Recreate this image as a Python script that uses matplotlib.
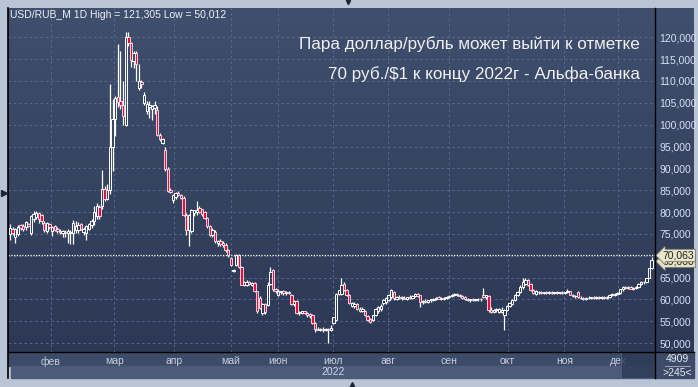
import numpy as np
import matplotlib.pyplot as plt
import matplotlib.transforms as mtransforms
from matplotlib.colors import LinearSegmentedColormap
from matplotlib.patches import Rectangle

plt.rcParams['font.family'] = ['Liberation Sans', 'DejaVu Sans']

# daily candles USD/RUB_M, 2022
opens = [
    74.9, 76.2, 74.2, 75.0, 77.0, 76.8, 76.6, 77.2, 75.2, 78.4,
    78.9, 79.8, 79.4, 77.6, 75.6, 77.3, 75.6, 76.7, 76.2, 75.7,
    75.1, 75.5, 75.1, 75.1, 75.1, 76.0, 76.0, 77.2, 75.4, 75.3,
    76.1, 77.0, 77.9, 79.0, 81.2, 81.3, 85.2, 83.0, 85.0, 94.8,
    101.3, 106.3, 105.4, 104.5, 100.0, 120.0, 118.6, 114.5, 116.3, 108.3,
    109.8, 104.9, 103.2, 104.0, 103.5, 103.8, 103.4, 97.7, 95.8, 94.3,
    89.9, 85.0, 82.8, 83.5, 84.3, 83.9, 83.3, 79.4, 76.0, 75.6,
    79.8, 79.9, 80.9, 80.6, 80.0, 78.6, 76.7, 74.8, 75.4, 72.9,
    73.3, 72.9, 72.5, 71.4, 69.5, 66.6, 67.9, 70.2, 67.4, 63.4,
    63.4, 64.1, 63.4, 63.8, 61.9, 60.4, 57.0, 58.9, 58.7, 63.5,
    66.7, 62.3, 61.0, 61.6, 62.0, 61.4, 61.8, 61.0, 58.9, 59.6,
    56.9, 56.9, 57.3, 57.0, 56.7, 56.4, 54.5, 53.3, 53.1, 53.2,
    53.0, 53.2, 53.1, 54.5, 55.2, 61.3, 61.3, 63.6, 62.1, 61.0,
    58.5, 58.4, 58.9, 57.9, 57.4, 57.4, 56.2, 55.6, 55.2, 56.4,
    57.4, 57.9, 59.1, 59.4, 59.8, 60.6, 61.8, 60.2, 60.5, 60.3,
    60.4, 60.2, 60.5, 60.4, 60.8, 61.2, 60.9, 59.4, 59.6, 59.4,
    59.8, 59.9, 60.1, 60.5, 60.2, 60.2, 60.4, 60.6, 60.8, 61.0,
    61.3, 61.0, 60.8, 60.5, 60.1, 59.8, 60.0, 59.9, 60.1, 60.0,
    61.0, 60.5, 60.8, 57.5, 57.2, 57.5, 57.1, 57.1, 56.4, 57.6,
    58.5, 59.0, 59.9, 61.0, 61.7, 62.9, 63.6, 64.4, 63.5, 62.1,
    61.3, 61.7, 61.8, 61.4, 61.6, 61.5, 61.8, 61.5, 61.6, 61.5,
    61.8, 61.5, 61.6, 61.9, 61.1, 60.7, 61.7, 60.4, 60.3, 60.2,
    60.4, 60.3, 60.5, 60.4, 60.5, 60.4, 60.5, 60.4, 60.6, 61.0,
    61.0, 61.3, 61.5, 62.3, 62.8, 62.7, 62.9, 62.5, 62.7, 62.9,
    63.6, 64.0, 64.0, 65.0, 67.1,
]
highs = [
    77.2, 76.6, 76.4, 77.0, 77.3, 77.2, 77.9, 77.6, 79.4, 80.3,
    80.2, 80.0, 79.6, 78.0, 77.8, 77.5, 76.8, 77.0, 76.5, 76.1,
    76.0, 75.8, 76.1, 76.0, 78.2, 77.9, 77.8, 77.5, 76.5, 77.0,
    77.6, 78.5, 81.3, 82.1, 81.5, 89.7, 86.0, 86.5, 109.3, 105.9,
    106.5, 118.5, 116.8, 110.0, 121.1, 121.3, 119.0, 116.8, 116.8, 113.8,
    110.2, 107.5, 105.3, 105.5, 104.5, 105.3, 104.3, 98.2, 97.0, 95.0,
    90.3, 85.4, 84.1, 84.5, 84.9, 84.2, 83.6, 79.8, 79.6, 80.7,
    80.5, 82.6, 81.4, 80.8, 80.3, 78.8, 77.0, 76.3, 75.8, 73.6,
    73.8, 73.3, 72.9, 71.6, 69.8, 67.0, 70.3, 70.5, 67.6, 64.2,
    64.5, 64.3, 64.0, 64.0, 62.0, 60.8, 59.2, 59.2, 64.0, 67.4,
    67.0, 62.6, 62.3, 62.0, 62.2, 62.0, 62.0, 61.2, 59.8, 59.8,
    57.3, 57.4, 57.4, 57.2, 56.9, 56.6, 54.8, 53.8, 53.5, 53.6,
    53.4, 53.5, 54.1, 56.0, 61.4, 62.2, 65.0, 64.0, 62.3, 61.2,
    59.3, 59.3, 59.2, 58.2, 58.2, 57.6, 56.4, 55.8, 56.5, 58.1,
    58.5, 59.0, 60.0, 60.6, 61.2, 62.5, 62.0, 60.8, 60.9, 60.7,
    60.8, 60.6, 60.9, 61.0, 61.4, 61.5, 61.1, 59.8, 60.0, 59.9,
    60.2, 60.3, 60.5, 60.8, 60.5, 60.6, 60.8, 61.0, 61.3, 61.4,
    61.5, 61.3, 61.0, 60.7, 60.3, 60.2, 60.3, 60.2, 60.3, 60.4,
    62.7, 61.0, 61.0, 58.2, 57.8, 58.0, 58.1, 58.2, 57.9, 58.8,
    59.4, 60.1, 61.2, 61.9, 63.2, 64.8, 64.8, 64.6, 63.7, 62.4,
    62.1, 62.0, 62.0, 61.8, 61.9, 61.9, 62.0, 61.8, 61.9, 61.8,
    62.0, 61.8, 62.3, 62.0, 61.3, 61.0, 62.0, 60.7, 60.6, 60.5,
    60.7, 60.6, 60.8, 60.7, 60.8, 60.7, 60.8, 60.8, 61.2, 61.5,
    61.5, 61.6, 62.5, 63.0, 63.1, 63.0, 63.1, 62.9, 63.0, 63.8,
    64.2, 64.3, 65.0, 67.3, 69.6,
]
lows = [
    73.6, 74.8, 73.0, 74.5, 76.0, 75.7, 76.0, 76.5, 74.8, 77.8,
    78.5, 77.6, 77.2, 75.5, 75.2, 76.2, 74.6, 75.7, 75.3, 75.0,
    74.4, 74.3, 72.9, 72.7, 72.8, 75.2, 75.3, 75.8, 74.8, 73.5,
    75.9, 76.3, 77.0, 78.3, 78.5, 80.8, 82.5, 82.8, 84.2, 89.3,
    97.4, 104.0, 103.5, 100.0, 99.6, 118.0, 113.3, 113.0, 110.0, 108.0,
    108.5, 104.5, 102.5, 101.5, 101.0, 102.5, 97.5, 96.2, 95.5, 89.5,
    84.6, 84.4, 82.0, 83.0, 83.6, 83.0, 79.0, 74.8, 72.3, 75.3,
    79.0, 79.4, 79.7, 79.2, 78.3, 76.4, 74.5, 74.2, 73.0, 72.2,
    72.3, 72.0, 70.9, 69.8, 67.6, 66.2, 67.6, 67.2, 63.2, 63.0,
    63.0, 63.2, 63.0, 61.6, 57.0, 57.8, 56.5, 56.6, 58.5, 63.2,
    62.0, 61.5, 60.7, 61.2, 61.1, 61.0, 61.2, 58.7, 58.5, 56.7,
    56.4, 56.6, 56.6, 56.0, 55.8, 54.3, 52.6, 52.9, 52.8, 52.6,
    52.7, 50.01, 52.8, 54.3, 55.0, 61.0, 61.0, 61.9, 60.8, 58.9,
    58.2, 58.0, 57.6, 57.2, 57.2, 56.2, 55.0, 54.7, 55.0, 56.2,
    57.0, 57.4, 58.8, 59.0, 59.6, 60.2, 59.9, 59.9, 60.1, 59.9,
    60.0, 59.9, 60.2, 60.1, 60.5, 60.6, 58.3, 59.0, 59.2, 59.2,
    59.5, 59.6, 59.8, 60.1, 59.9, 59.9, 60.1, 60.3, 60.5, 60.7,
    60.8, 60.5, 60.2, 59.8, 59.6, 59.5, 59.6, 59.6, 59.7, 59.7,
    60.3, 60.2, 57.1, 56.9, 56.8, 57.2, 56.9, 56.8, 53.0, 57.4,
    58.2, 58.8, 59.6, 60.7, 61.4, 62.5, 63.3, 63.0, 61.9, 61.2,
    61.0, 61.3, 61.2, 61.2, 61.3, 61.2, 61.3, 61.2, 61.3, 61.2,
    61.3, 61.2, 61.4, 60.9, 60.5, 60.3, 60.4, 60.0, 59.9, 59.9,
    60.1, 60.0, 60.2, 60.1, 60.2, 60.1, 60.2, 60.1, 60.3, 60.8,
    60.7, 61.0, 61.3, 62.0, 62.4, 62.3, 62.4, 62.2, 62.4, 62.7,
    63.3, 63.6, 63.8, 64.8, 66.9,
]
closes = [
    76.4, 75.1, 76.2, 76.6, 76.3, 76.2, 77.7, 76.9, 79.1, 79.5,
    79.8, 78.3, 77.9, 75.8, 77.5, 76.6, 76.5, 76.0, 75.6, 75.4,
    75.6, 75.3, 75.6, 75.5, 77.5, 76.8, 77.1, 76.1, 76.2, 76.7,
    77.2, 77.9, 80.0, 81.3, 79.0, 85.3, 83.0, 85.0, 94.8, 101.3,
    106.2, 105.2, 104.5, 102.0, 120.0, 118.6, 114.8, 116.3, 113.8, 109.9,
    109.2, 106.8, 104.8, 104.6, 104.3, 104.6, 97.7, 96.7, 96.7, 89.9,
    84.9, 84.7, 83.9, 84.4, 83.9, 83.1, 79.4, 76.0, 79.4, 80.5,
    80.4, 80.5, 80.0, 79.5, 78.6, 76.7, 74.8, 76.0, 73.3, 73.4,
    72.6, 72.4, 71.4, 70.2, 67.9, 66.8, 70.2, 67.4, 63.4, 64.1,
    64.1, 63.5, 63.8, 61.9, 57.3, 58.1, 58.9, 57.2, 63.4, 66.3,
    62.3, 61.9, 62.0, 61.9, 61.4, 61.8, 61.4, 58.9, 59.6, 56.9,
    57.1, 57.3, 56.8, 56.4, 56.1, 54.5, 53.3, 53.1, 53.2, 53.0,
    53.2, 53.1, 53.4, 55.9, 61.3, 62.1, 63.2, 62.1, 61.0, 59.1,
    59.1, 59.0, 57.8, 57.4, 57.8, 56.4, 55.2, 54.9, 56.4, 57.9,
    58.2, 58.6, 59.8, 60.4, 61.0, 62.1, 60.4, 60.5, 60.3, 60.6,
    60.2, 60.5, 60.4, 60.8, 61.2, 60.8, 59.4, 59.6, 59.4, 59.8,
    60.0, 60.1, 60.3, 60.2, 60.3, 60.4, 60.6, 60.8, 61.1, 61.3,
    61.0, 60.8, 60.4, 60.0, 59.8, 60.0, 59.9, 60.1, 60.0, 60.2,
    60.5, 60.9, 57.5, 57.2, 57.5, 57.9, 57.9, 57.6, 57.6, 58.5,
    59.1, 59.9, 61.0, 61.7, 62.9, 64.0, 64.4, 63.2, 62.1, 61.5,
    61.9, 61.6, 61.4, 61.6, 61.5, 61.7, 61.5, 61.6, 61.5, 61.7,
    61.5, 61.6, 61.9, 61.1, 60.7, 60.8, 60.5, 60.3, 60.2, 60.4,
    60.3, 60.5, 60.4, 60.5, 60.4, 60.5, 60.4, 60.6, 61.0, 61.3,
    61.3, 61.4, 62.3, 62.8, 62.7, 62.6, 62.5, 62.7, 62.9, 63.6,
    64.0, 63.9, 64.8, 67.1, 69.0,
]

month_pos = [15.5, 39.7, 62.5, 83.9, 101.8, 122.9, 143.8, 167.0, 189.2, 210.8, 231.3]
month_labels = ['фев', 'мар', 'апр', 'май', 'июн', 'июл', 'авг', 'сен', 'окт', 'ноя', 'дек']
year_label = '2022'
price_ticks = [50, 55, 60, 65, 70, 75, 80, 85, 90, 95, 100, 105, 110, 115, 120]
bid_price = 70.063
info = 'USD/RUB_M 1D High = 121,305 Low = 50,012'
title1 = 'Пара доллар/рубль может выйти к отметке'
title2 = '70 руб./$1 к концу 2022г - Альфа-банка'

W, H = 698, 387
fig = plt.figure(figsize=(W / 100, H / 100), dpi=100)
fig.patch.set_facecolor('#b9c5d5')

def rect(x0, y0, x1, y1):
    # pixel box (origin top-left) -> figure fraction
    return [x0 / W, 1 - y1 / H, (x1 - x0) / W, (y1 - y0) / H]

# background panel / bands, pixel coordinates
deco = fig.add_axes([0, 0, 1, 1], zorder=0)
deco.axis('off')
grad = LinearSegmentedColormap.from_list('bg', ['#404f6e', '#2c3855'])
deco.imshow(np.linspace(0, 1, 256).reshape(-1, 1), cmap=grad, aspect='auto',
            extent=[8.3, 694, 352.3, 8.3])
deco.add_patch(Rectangle((8.3, 352.3), 646, 14, color='#3d4b68'))
deco.add_patch(Rectangle((11, 366), 644, 12, color='#4b5b79'))
deco.add_patch(Rectangle((655.3, 352.3), 38.7, 25.7, color='#3d4b68'))
deco.set_xlim(0, W)
deco.set_ylim(H, 0)

ax = fig.add_axes(rect(8.3, 8.3, 655.3, 352.3), zorder=2)
ax.patch.set_alpha(0)

x = np.arange(len(closes))
o = np.array(opens)
c = np.array(closes)
top = np.maximum(o, c)
bot = np.minimum(o, c)
up = c >= o

ax.vlines(x, top, highs, color='white', lw=0.9, zorder=3)
ax.vlines(x, lows, bot, color='white', lw=0.9, zorder=3)
ax.bar(x[up], (c - o)[up], bottom=o[up], width=0.9, facecolor='none',
       edgecolor='white', linewidth=0.7, zorder=4)
ax.bar(x[~up], (o - c)[~up], bottom=c[~up], width=0.9, facecolor='#ee0a3c',
       edgecolor='white', linewidth=0.55, zorder=4)

ax.axhline(bid_price, color='white', lw=0.9, ls=(0, (1, 1.2)), zorder=2)

ax.set_xlim(-0.65, 245.4)
ax.set_ylim(47.9, 126.63)
ax.set_yticks(price_ticks)
ax.set_yticklabels([f'{v:.3f}'.replace('.', ',') for v in price_ticks])
ax.yaxis.tick_right()
ax.set_xticks(month_pos)
ax.set_xticklabels(month_labels)
ax.tick_params(axis='y', length=0, pad=3, labelsize=7.5, labelcolor='#d6e2f4')
ax.tick_params(axis='x', length=0, pad=3, labelsize=7.5, labelcolor='#c6cfdf')
ax.grid(True, color='#5a6889', lw=0.7, ls=(0, (2.5, 3)), zorder=1)
for s in ax.spines.values():
    s.set_visible(False)

blend = mtransforms.blended_transform_factory(ax.transData, ax.transAxes)
ax.text(month_pos[5], -0.056, year_label, transform=blend, ha='center',
        va='center', fontsize=7.5, color='#d0d8e6')

ax.text(0.0026, 0.9805, info, transform=ax.transAxes, ha='left', va='center',
        fontsize=7.5, color='#eef2f8')
ax.text(0.976, 0.896, title1, transform=ax.transAxes, ha='right', va='center',
        fontsize=12.3, color='#f0f0f0')
ax.text(0.976, 0.809, title2, transform=ax.transAxes, ha='right', va='center',
        fontsize=12.3, color='#f0f0f0')

tag = mtransforms.blended_transform_factory(ax.transAxes, ax.transData)
ax.text(1.011, closes[-1] - 0.3, f'{closes[-1]:.3f}'.replace('.', ','), transform=tag,
        ha='left', va='center', fontsize=7.5, color='#222222', zorder=5,
        bbox=dict(boxstyle='larrow,pad=0.12', fc='#e4e0c0', ec='#666666', lw=0.5))
ax.text(1.011, bid_price, f'{bid_price:.3f}'.replace('.', ','), transform=tag,
        ha='left', va='center', fontsize=7.5, color='#222222', zorder=6,
        bbox=dict(boxstyle='larrow,pad=0.12', fc='#e9e5c8', ec='#666666', lw=0.5))

# frame lines and small widgets, pixel coordinates
front = fig.add_axes([0, 0, 1, 1], zorder=3)
front.axis('off')
front.set_xlim(0, W)
front.set_ylim(H, 0)
front.add_patch(Rectangle((621, 352.3), 34.3, 25.7, facecolor='#2d3a55', alpha=0.8,
                          edgecolor='#56647f', lw=0.6))
front.plot([655.3, 655.3], [8.3, 378], color='black', lw=1)
front.plot([8, 8], [8.3, 378], color='black', lw=1.2)
front.plot([8.3, 694], [352.3, 352.3], color='black', lw=1)
front.plot([665, 690], [366, 366], color='#aab4c6', lw=0.6)
front.text(677, 359, '4909', ha='center', va='center', fontsize=7.5, color='#e4e8f0')
front.text(677, 372.5, '>245<', ha='center', va='center', fontsize=7.5, color='#e4e8f0')
front.plot([3.5], [193], marker='>', color='#1c2436', ms=4)
front.plot([348], [1.5], marker='v', color='#1c2436', ms=3)
front.plot([352], [384.5], marker='^', color='#1c2436', ms=4)

fig.savefig('out.png', dpi=100, facecolor=fig.get_facecolor())
